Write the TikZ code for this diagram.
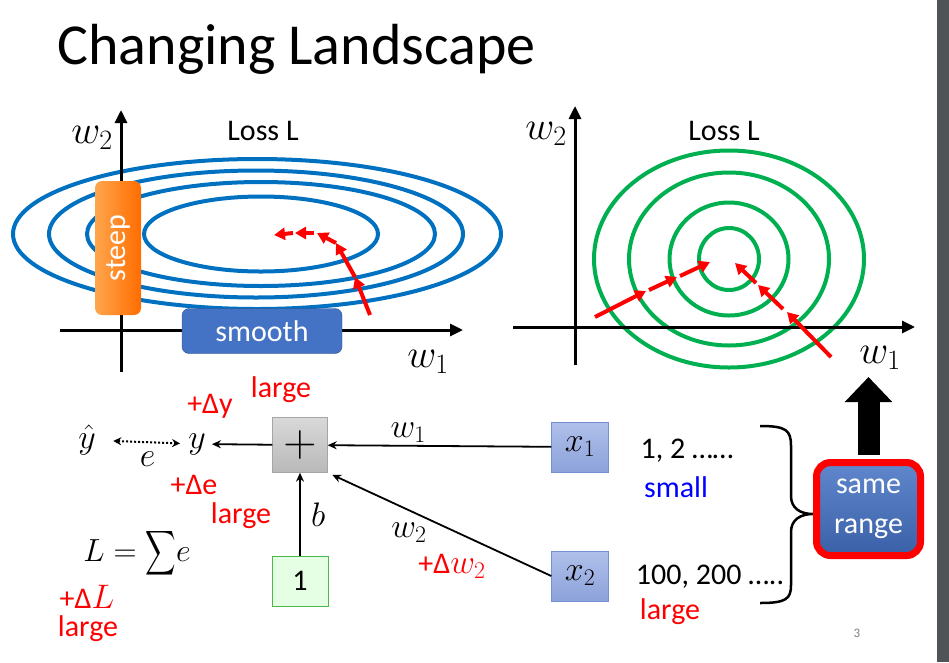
\RequirePackage{fix-cm}
\documentclass[tikz,border=0pt]{standalone}
\usepackage{exscale}
\usepackage{fontspec}
\setmainfont{Carlito}
\usepackage{tikz}
\usetikzlibrary{arrows.meta}

\definecolor{lossblue}{HTML}{0070C0}
\definecolor{lossgreen}{HTML}{00B050}
\definecolor{boxblue}{HTML}{4472C4}
\definecolor{inputtop}{HTML}{B0C0EA}
\definecolor{inputbot}{HTML}{8CA2DA}
\definecolor{inputline}{HTML}{7391D4}
\definecolor{stripgray}{HTML}{505457}

\tikzset{
  big/.style={font=\fontsize{30}{36}\selectfont},
  mathbig/.style={font=\fontsize{34}{40}\selectfont},
  axlabel/.style={font=\fontsize{40}{48}\selectfont},
  contour/.style={line width=4pt},
  axis/.style={line width=3pt,-{Triangle[length=13pt,width=12pt]}},
  gdstep/.style={red,line width=4pt,-{Triangle[length=11pt,width=12pt]}},
  link/.style={line width=1.8pt,-{Stealth[length=9pt,width=8pt]}},
  unitbox/.style={mathbig,draw,minimum width=56pt,minimum height=50pt,inner sep=0pt},
  inputbox/.style={unitbox,draw=inputline,top color=inputtop,bottom color=inputbot,minimum width=57pt},
}

\begin{document}
\begin{tikzpicture}[x=1pt,y=-1pt]
\useasboundingbox (0,0) rectangle (949,662);
\fill[stripgray] (937,0) rectangle (949,662);
\node[anchor=base west,font=\fontsize{58}{70}\selectfont] (title) at (54,64) {Changing Landscape};

% left plot: stretched loss surface
\foreach \cx/\rx/\ry in {261/117/37.5, 261/174/52, 256/207/63.5, 257/244/75}
  \draw[contour,lossblue] (\cx,234) ellipse [x radius=\rx pt, y radius=\ry pt];
\draw[axis] (60,330) -- (463,330);
\draw[axis] (121,372) -- (121,110);
\node[axlabel] (wtwoL) at (92,138) {$w_2$};
\node[axlabel] (woneL) at (428,362) {$w_1$};
\node[big] (lossL) at (263,131) {Loss L};
\node[draw=none,rounded corners=7pt,left color=orange!70!white,right color=orange!85!red,
      minimum width=46pt,minimum height=134pt] (steep) at (118,248) {};
\node[big,white,rotate=90] at (steep) {steep};
\node[big,white,draw=boxblue!70!black,fill=boxblue,rounded corners=7pt,
      minimum width=160pt,minimum height=45pt] (smooth) at (262,331) {smooth};
\draw[gdstep] (370,315) -- (355,277);
\draw[gdstep] (355,277) -- (336,243);
\draw[gdstep] (336,243) -- (317,233);
\draw[gdstep] (314,233) -- (295,233);
\draw[gdstep] (293,233) -- (274,235);

% right plot: round loss surface
\foreach \rx/\ry in {30/31, 59.5/56.5, 100/86.5, 135/108.5}
  \draw[contour,lossgreen] (729,259) ellipse [x radius=\rx pt, y radius=\ry pt];
\draw[axis] (513,327) -- (915,327);
\draw[axis] (575,365) -- (575,106);
\node[axlabel] (wtwoR) at (546,134) {$w_2$};
\node[axlabel] (woneR) at (880,358) {$w_1$};
\node[big] (lossR) at (724,131) {Loss L};
\draw[gdstep] (595,317) -- (646,291);
\draw[gdstep] (649,290) -- (677,277);
\draw[gdstep] (680,276) -- (710,262);
\draw[gdstep] (831,357) -- (787,312);
\draw[gdstep] (783,309) -- (758,285);
\draw[gdstep] (756,283) -- (735,263);

% neuron
\node[unitbox,draw=gray!70,top color=gray!30,bottom color=gray!55,minimum width=55pt,minimum height=55pt,
      font=\fontsize{46}{50}\selectfont] (plus) at (300,445) {$+$};
\node[unitbox,big,draw=green!60!black!70,fill=green!10!white] (one) at (300,581) {1};
\node[inputbox] (xone) at (580,447) {$x_1$};
\node[inputbox] (xtwo) at (580,576) {$x_2$};
\node[mathbig,inner sep=1pt] (yout) at (197,444) {$y$};
\node[mathbig] (yhat) at (87,440) {$\hat{y}$};
\draw[link] (xone) -- node[pos=0.64,above=-1pt,mathbig]{$w_1$} (plus);
\draw[link,shorten >=5pt] (xtwo.west) -- (plus.south east);
\draw[link] (one) -- node[right=7pt,mathbig]{$b$} (plus);
\draw[link,shorten >=5pt] (plus) -- (yout);
\draw[dotted,line width=2pt,{Stealth[length=8pt,width=8pt]}-{Stealth[length=8pt,width=8pt]},
      shorten <=14pt,shorten >=7pt] (yhat) -- node[pos=0.55,below=5pt,mathbig]{$e$} (yout);
\node[mathbig] (wtwo) at (409,533) {$w_2$};
\node[big,red] (dwtwo) at (452,566) {+Δ\fontsize{34}{40}\selectfont$w_2$};
\node[font=\fontsize{32}{38}\selectfont] (loss) at (137,553)
  {$L=\vcenter{\hbox{\scalebox{0.85}[1.25]{$\displaystyle\sum$}}}e$};

\node[big,red] (dy) at (210,406) {+Δy};
\node[big,red] at (281,390) {large};
\node[big,red] (de) at (194,485) {+Δe};
\node[big,red] at (241,516) {large};
\node[big,red] (dL) at (87,597) {+Δ\fontsize{34}{40}\selectfont$L$};
\node[big,red] at (88,629) {large};
\node[big] (xonevals) at (687,451) {1, 2 ……};
\node[big,blue] at (676,487) {small};
\node[big] (xtwovals) at (710,577) {100, 200 …..};
\node[big,red] at (670,612) {large};

% brace and conclusion
\coordinate (bracetip) at (813,514);
\draw[line width=2.5pt] (760,426) .. controls (786,426) and (791,430) .. (791,446) -- (791,496)
  .. controls (791,508) and (800,514) .. (bracetip)
  .. controls (800,514) and (791,520) .. (791,532) -- (791,585)
  .. controls (791,599) and (786,603) .. (760,603);
\node[draw=red,line width=7pt,rounded corners=14pt,top color=boxblue!85!white,bottom color=boxblue!85!black,
      text=white,align=center,font=\fontsize{30}{40}\selectfont,inner sep=0pt,
      minimum width=104pt,minimum height=93pt] (range) at (868.5,509) {same\\range};
\coordinate (wonetip) at (868.5,377);
\draw[line width=22pt,-{Triangle[length=25pt,width=46pt]},shorten <=4pt] (range.north) -- (wonetip);
\node[font=\fontsize{13}{15}\selectfont,gray] at (857,633) {3};
\end{tikzpicture}
\end{document}
